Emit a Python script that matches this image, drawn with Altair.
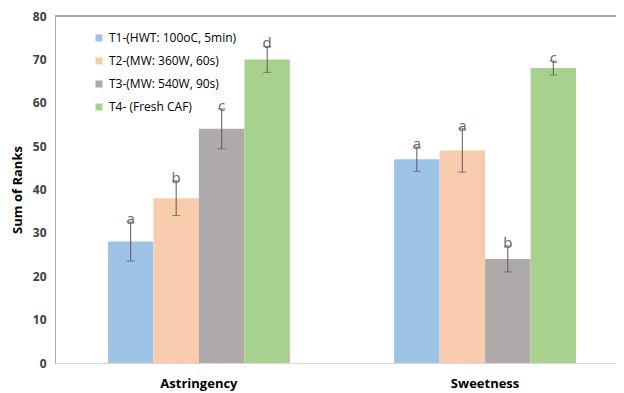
import altair as alt
import pandas as pd

attributes = ["Astringency", "Sweetness"]
treatments = ["T1-(HWT: 100oC, 5min)", "T2-(MW: 360W, 60s)", "T3-(MW: 540W, 90s)", "T4- (Fresh CAF)"]
astringency_ranks = [28, 38, 54, 70]
astringency_err = [4.5, 4.0, 4.6, 3.0]
astringency_letters = ["a", "b", "c", "d"]
sweetness_ranks = [47, 49, 24, 68]
sweetness_err = [2.8, 5.0, 3.0, 1.6]
sweetness_letters = ["a", "a", "b", "c"]
colors = ["#9DC3E6", "#F8CBAD", "#AEAAAA", "#A9D18E"]
y_ticks = [0, 10, 20, 30, 40, 50, 60, 70, 80]

rows = []
for attr, vals, errs, lets in [
    ("Astringency", astringency_ranks, astringency_err, astringency_letters),
    ("Sweetness", sweetness_ranks, sweetness_err, sweetness_letters),
]:
    for t, v, e, l in zip(treatments, vals, errs, lets):
        rows.append({"attribute": attr, "treatment": t, "value": v,
                     "lo": v - e, "hi": v + e, "letter": l})
df = pd.DataFrame(rows)

FONT = "Open Sans"

x = alt.X("attribute:N", sort=attributes,
          scale=alt.Scale(range=[0, 574], paddingInner=0.364, paddingOuter=0.185),
          axis=alt.Axis(title=None, labelAngle=0, ticks=False, domainColor="#d9d9d9",
                        labelFont=FONT, labelFontWeight="bold", labelFontSize=13,
                        labelColor="#000000", labelPadding=14))
xo = alt.XOffset("treatment:N", sort=treatments,
                 scale=alt.Scale(domain=treatments, paddingInner=0, paddingOuter=0))
y_axis = alt.Axis(values=y_ticks, grid=False, ticks=False, domainColor="#a6a6a6",
                  labelFont=FONT, labelFontWeight="bold", labelFontSize=12,
                  labelColor="#404040", labelPadding=9,
                  title="Sum of Ranks", titleFont=FONT, titleFontSize=13,
                  titleFontWeight="bold", titleColor="#000000", titlePadding=8)
yscale = alt.Scale(domain=[0, 80], nice=False)

base = alt.Chart(df)

bars = base.mark_bar().encode(
    x=x, xOffset=xo,
    y=alt.Y("value:Q", scale=yscale, axis=y_axis),
    color=alt.Color("treatment:N", sort=treatments,
                    scale=alt.Scale(domain=treatments, range=colors),
                    legend=alt.Legend(orient="none", legendX=38, legendY=16, title=None,
                                      symbolType="square", symbolSize=49,
                                      symbolStrokeWidth=0, labelFont=FONT,
                                      labelFontSize=12, labelColor="#000000",
                                      rowPadding=11, padding=0, labelOffset=4)),
)

err = base.mark_rule(color="#595959", strokeWidth=1).encode(
    x=x, xOffset=xo, y="lo:Q", y2="hi:Q")
cap_lo = base.mark_tick(orient="horizontal", size=8, thickness=1, color="#595959").encode(
    x=x, xOffset=xo, y="lo:Q")
cap_hi = base.mark_tick(orient="horizontal", size=8, thickness=1, color="#595959").encode(
    x=x, xOffset=xo, y="hi:Q")
letters = base.mark_text(dy=-3, baseline="middle", fontSize=15, color="#666666",
                         font=FONT).encode(x=x, xOffset=xo, y="hi:Q", text="letter:N")

top_line = base.mark_rule(color="#a6a6a6", strokeWidth=1).encode(y=alt.value(0))

chart = alt.layer(bars, err, cap_lo, cap_hi, letters, top_line).properties(
    width=561, height=347,
    autosize=alt.AutoSizeParams(type="none"),
    padding={"left": 47, "top": 8, "right": 0, "bottom": 30},
).configure_view(stroke=None)

chart.save("out.html", embed_options={"renderer": "svg", "actions": False})
